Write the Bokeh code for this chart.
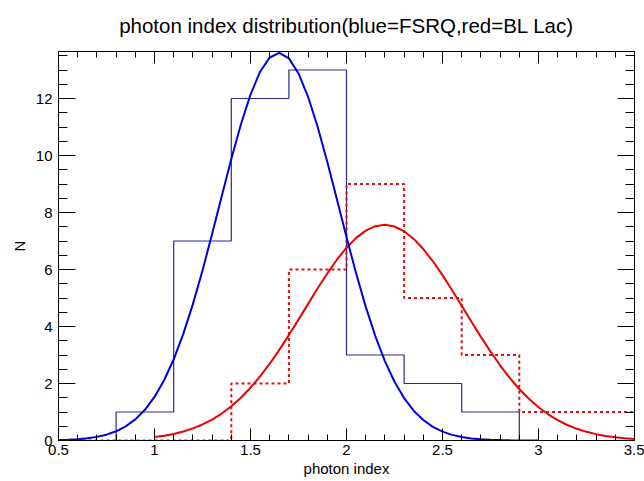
from bokeh.plotting import figure
from bokeh.models import LinearAxis, Range1d, SingleIntervalTicker, CustomJSTickFormatter
from bokeh.embed import file_html
from bokeh.resources import INLINE

# ---- data ----
bin_edges = [0.5, 0.8, 1.1, 1.4, 1.7, 2.0, 2.3, 2.6, 2.9, 3.2, 3.5]
fsrq_counts = [0, 1, 7, 12, 13, 3, 2, 1, 0, 0]
bllac_counts = [0, 0, 0, 2, 6, 9, 5, 3, 1, 1]

fsrq_fit_x = [0.50, 0.55, 0.60, 0.65, 0.70, 0.75, 0.80, 0.85, 0.90, 0.95,
              1.00, 1.05, 1.10, 1.15, 1.20, 1.25, 1.30, 1.35, 1.40, 1.45,
              1.50, 1.55, 1.60, 1.65, 1.70, 1.75, 1.80, 1.85, 1.90, 1.95,
              2.00, 2.05, 2.10, 2.15, 2.20, 2.25, 2.30, 2.35, 2.40, 2.45,
              2.50, 2.55, 2.60, 2.65, 2.70, 2.75, 2.80, 2.85, 2.90, 2.95, 3.00]
fsrq_fit_y = [0.014, 0.026, 0.045, 0.076, 0.127, 0.205, 0.323, 0.495, 0.740, 1.078,
              1.530, 2.115, 2.850, 3.743, 4.786, 5.965, 7.243, 8.568, 9.875, 11.09,
              12.14, 12.94, 13.44, 13.60, 13.41, 12.88, 12.06, 11.00, 9.773, 8.462,
              7.137, 5.867, 4.697, 3.665, 2.787, 2.063, 1.489, 1.047, 0.718, 0.479,
              0.311, 0.197, 0.122, 0.073, 0.043, 0.025, 0.014, 0.007, 0.004, 0.002, 0.001]

bllac_fit_x = [1.00, 1.05, 1.10, 1.15, 1.20, 1.25, 1.30, 1.35, 1.40, 1.45,
               1.50, 1.55, 1.60, 1.65, 1.70, 1.75, 1.80, 1.85, 1.90, 1.95,
               2.00, 2.05, 2.10, 2.15, 2.20, 2.25, 2.30, 2.35, 2.40, 2.45,
               2.50, 2.55, 2.60, 2.65, 2.70, 2.75, 2.80, 2.85, 2.90, 2.95,
               3.00, 3.05, 3.10, 3.15, 3.20, 3.25, 3.30, 3.35, 3.40, 3.45, 3.50]
bllac_fit_y = [0.119, 0.167, 0.231, 0.316, 0.424, 0.563, 0.735, 0.946, 1.201, 1.502,
               1.852, 2.250, 2.694, 3.180, 3.699, 4.241, 4.794, 5.340, 5.862, 6.343,
               6.765, 7.111, 7.366, 7.522, 7.570, 7.509, 7.341, 7.073, 6.718, 6.288,
               5.802, 5.275, 4.727, 4.176, 3.636, 3.120, 2.639, 2.200, 1.807, 1.463,
               1.168, 0.919, 0.712, 0.544, 0.410, 0.304, 0.223, 0.161, 0.114, 0.080, 0.055]

title_text = "photon index distribution(blue=FSRQ,red=BL Lac)"
x_title = "photon index"
y_title = "N"
x_min, x_max = 0.5, 3.5
y_min, y_max = 0.0, 13.65

FONT = "Liberation Sans"

p = figure(width=644, height=481, output_backend="svg", toolbar_location=None,
           x_range=Range1d(x_min, x_max), y_range=Range1d(y_min, y_max),
           min_border_left=58, min_border_right=10, min_border_top=51,
           min_border_bottom=41, background_fill_color="white",
           border_fill_color="white")

p.title.text = title_text
p.title.align = "center"
p.title.vertical_align = "top"
p.title.text_font = FONT
p.title.text_font_size = "20.5px"
p.title.text_font_style = "normal"
p.title.text_color = "black"
p.title.standoff = 26

p.xgrid.visible = False
p.ygrid.visible = False
p.outline_line_color = "black"

fmt = CustomJSTickFormatter(code="return String(Math.round(tick*100)/100);")
blank = CustomJSTickFormatter(code="return '';")

def style_axis(ax, tick_in, minor_in):
    ax.axis_line_color = "black"
    ax.major_tick_line_color = "black"
    ax.minor_tick_line_color = "black"
    ax.major_tick_in = tick_in
    ax.major_tick_out = 0
    ax.minor_tick_in = minor_in
    ax.minor_tick_out = 0
    ax.major_label_text_font = FONT
    ax.major_label_text_font_size = "15px"
    ax.major_label_text_color = "black"
    ax.axis_label_text_font = FONT
    ax.axis_label_text_font_size = "15px"
    ax.axis_label_text_font_style = "normal"
    ax.axis_label_text_color = "black"

p.xaxis.ticker = SingleIntervalTicker(interval=0.5, num_minor_ticks=5)
p.yaxis.ticker = SingleIntervalTicker(interval=2, num_minor_ticks=4)
p.xaxis.formatter = fmt
p.yaxis.formatter = fmt
style_axis(p.xaxis[0], 12, 6)
style_axis(p.yaxis[0], 17, 9)
p.xaxis.axis_label = x_title
p.yaxis.axis_label = y_title
p.xaxis.major_label_standoff = 4
p.xaxis.axis_label_standoff = 2
p.yaxis.major_label_standoff = 6
p.yaxis.axis_label_standoff = 5

top = LinearAxis(ticker=SingleIntervalTicker(interval=0.5, num_minor_ticks=5),
                 formatter=blank, major_label_standoff=0)
style_axis(top, 12, 6)
p.add_layout(top, "above")
right = LinearAxis(ticker=SingleIntervalTicker(interval=2, num_minor_ticks=4),
                   formatter=blank, major_label_standoff=0)
style_axis(right, 17, 9)
p.add_layout(right, "right")

# histograms
p.step(bin_edges, fsrq_counts + [fsrq_counts[-1]], mode="after",
       line_color="#2a2a8c", line_width=1.2)
p.step(bin_edges, bllac_counts + [bllac_counts[-1]], mode="after",
       line_color="#dd1111", line_width=2, line_dash="3 3")

# fits
p.line(bllac_fit_x, bllac_fit_y, line_color="#ee0000", line_width=2)
p.line(fsrq_fit_x, fsrq_fit_y, line_color="#0000dd", line_width=2)

open("out.html", "w").write(file_html(p, INLINE))
